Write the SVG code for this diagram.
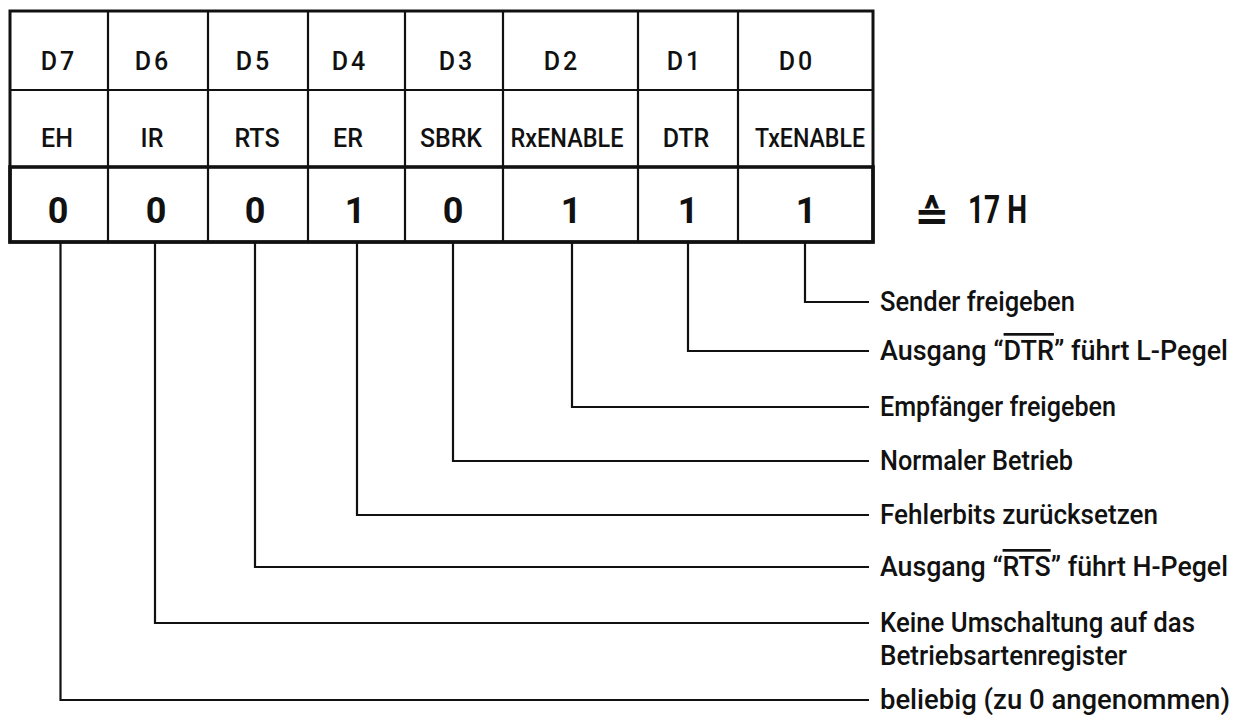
<svg xmlns="http://www.w3.org/2000/svg" width="1247" height="717" viewBox="0 0 1247 717">
<style>
  .cell { fill: none; stroke: #111; stroke-width: 2.2; }
  .hd { font-family: Roboto, "Liberation Sans", Arial, sans-serif; font-size: 25px; font-weight: 500; fill: #111; text-anchor: middle; letter-spacing: 3px; }
  .nm { font-family: Roboto, "Liberation Sans", Arial, sans-serif; font-size: 25px; font-weight: 500; fill: #111; text-anchor: middle; }
  .val { font-family: Roboto, "Liberation Sans", Arial, sans-serif; font-size: 36px; font-weight: bold; fill: #111; text-anchor: middle; }
  .lbl { font-family: Roboto, "Liberation Sans", Arial, sans-serif; font-size: 27px; font-weight: 500; fill: #111; }
  .conn { fill: none; stroke: #111; stroke-width: 2.2; }
</style>
<rect width="1247" height="717" fill="#fff"/>

<g id="table">
  <rect x="10" y="11" width="863" height="231" class="cell" style="stroke-width:3"/>
  <line x1="10" y1="90" x2="873" y2="90" class="cell"/>
  <rect x="10" y="167" width="863" height="75" class="cell" style="stroke-width:3.6"/>
  <line x1="108" y1="11" x2="108" y2="242" class="cell"/>
  <line x1="208" y1="11" x2="208" y2="242" class="cell"/>
  <line x1="308" y1="11" x2="308" y2="242" class="cell"/>
  <line x1="405" y1="11" x2="405" y2="242" class="cell"/>
  <line x1="503" y1="11" x2="503" y2="242" class="cell"/>
  <line x1="638" y1="11" x2="638" y2="242" class="cell"/>
  <line x1="738" y1="11" x2="738" y2="242" class="cell"/>
</g>

<g id="bit-D7">
  <text x="59" y="70" class="hd">D7</text>
  <text x="57" y="147" class="nm">EH</text>
  <text x="58" y="223" class="val">0</text>
</g>
<g id="bit-D6">
  <text x="153" y="70" class="hd">D6</text>
  <text x="152" y="147" class="nm">IR</text>
  <text x="156" y="223" class="val">0</text>
</g>
<g id="bit-D5">
  <text x="254" y="70" class="hd">D5</text>
  <text x="257" y="147" class="nm">RTS</text>
  <text x="255" y="223" class="val">0</text>
</g>
<g id="bit-D4">
  <text x="350" y="70" class="hd">D4</text>
  <text x="348" y="147" class="nm">ER</text>
  <text x="355" y="223" class="val">1</text>
</g>
<g id="bit-D3">
  <text x="457" y="70" class="hd">D3</text>
  <text x="451" y="147" class="nm" textLength="62" lengthAdjust="spacingAndGlyphs">SBRK</text>
  <text x="453" y="223" class="val">0</text>
</g>
<g id="bit-D2">
  <text x="562" y="70" class="hd">D2</text>
  <text x="567" y="147" class="nm" textLength="113" lengthAdjust="spacingAndGlyphs">RxENABLE</text>
  <text x="571" y="223" class="val">1</text>
</g>
<g id="bit-D1">
  <text x="685" y="70" class="hd">D1</text>
  <text x="686" y="147" class="nm">DTR</text>
  <text x="688" y="223" class="val">1</text>
</g>
<g id="bit-D0">
  <text x="797" y="70" class="hd">D0</text>
  <text x="810" y="147" class="nm" textLength="110" lengthAdjust="spacingAndGlyphs">TxENABLE</text>
  <text x="806" y="223" class="val">1</text>
</g>

<g id="hex-value">
  <text x="914" y="230" font-family="DejaVu Sans, sans-serif" font-size="42" font-weight="bold" fill="#111">≙</text>
  <text x="968" y="223" font-family="Roboto, Liberation Sans, Arial, sans-serif" font-size="38" font-weight="bold" fill="#111" textLength="59" lengthAdjust="spacingAndGlyphs">17 H</text>
</g>

<g id="connectors">
  <polyline class="conn" points="805,242 805,302 869,302"/>
  <polyline class="conn" points="688,242 688,351 869,351"/>
  <polyline class="conn" points="572,242 572,407 869,407"/>
  <polyline class="conn" points="453,242 453,461 869,461"/>
  <polyline class="conn" points="357,242 357,515 869,515"/>
  <polyline class="conn" points="255,242 255,567 869,567"/>
  <polyline class="conn" points="155,242 155,623 869,623"/>
  <polyline class="conn" points="60.5,242 60.5,700 869,700"/>
</g>

<g id="labels">
  <text x="880" y="311" class="lbl" textLength="195" lengthAdjust="spacingAndGlyphs">Sender freigeben</text>
  <text x="880" y="360" class="lbl" textLength="348" lengthAdjust="spacingAndGlyphs">Ausgang “<tspan text-decoration="overline">DTR</tspan>” führt L-Pegel</text>
  <text x="880" y="416" class="lbl" textLength="236" lengthAdjust="spacingAndGlyphs">Empfänger freigeben</text>
  <text x="880" y="470" class="lbl" textLength="193" lengthAdjust="spacingAndGlyphs">Normaler Betrieb</text>
  <text x="880" y="524" class="lbl" textLength="278" lengthAdjust="spacingAndGlyphs">Fehlerbits zurücksetzen</text>
  <text x="880" y="576" class="lbl" textLength="348" lengthAdjust="spacingAndGlyphs">Ausgang “<tspan text-decoration="overline">RTS</tspan>” führt H-Pegel</text>
  <text x="880" y="632" class="lbl" textLength="315" lengthAdjust="spacingAndGlyphs">Keine Umschaltung auf das</text>
  <text x="880" y="665" class="lbl" textLength="247" lengthAdjust="spacingAndGlyphs">Betriebsartenregister</text>
  <text x="880" y="709" class="lbl" textLength="350" lengthAdjust="spacingAndGlyphs">beliebig (zu 0 angenommen)</text>
</g>
</svg>
